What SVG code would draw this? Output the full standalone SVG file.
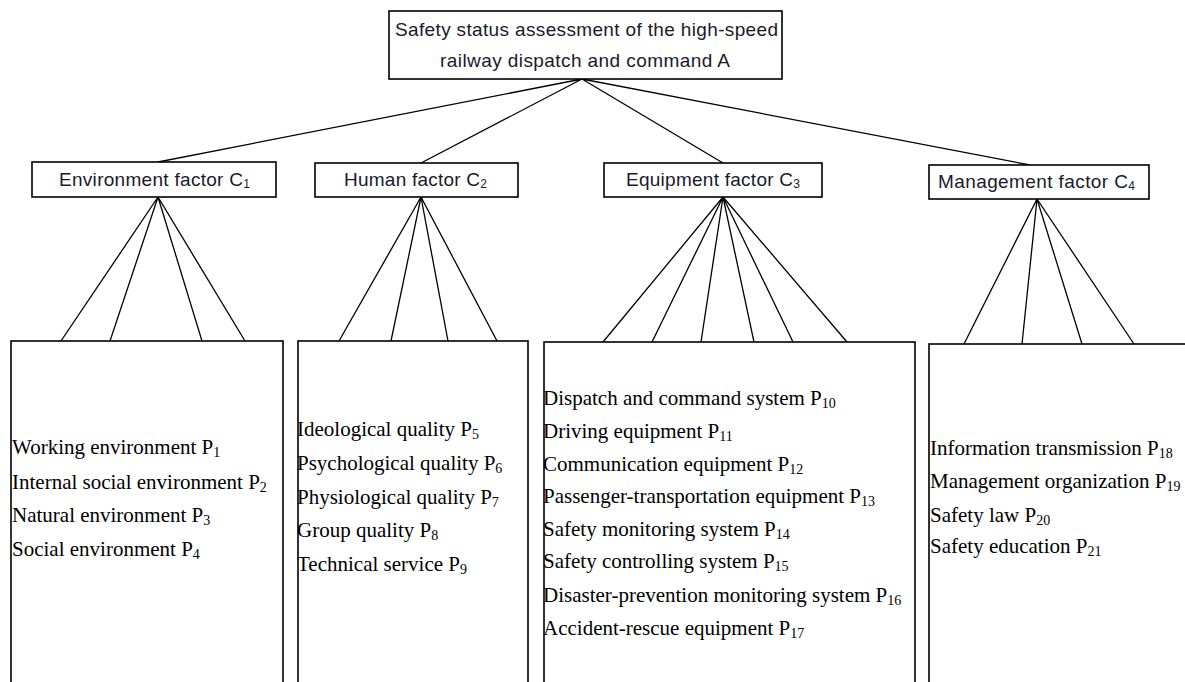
<svg xmlns="http://www.w3.org/2000/svg" width="1185" height="682" viewBox="0 0 1185 682">
<style>
.box{fill:#fff;stroke:#000;stroke-width:1.6}
.ln{stroke:#000;stroke-width:1.3;fill:none}
.sans{font-family:"Liberation Sans",Arial,sans-serif;font-size:19px;fill:#1a1a2a}
.ser{font-family:"Liberation Serif","Times New Roman",serif;font-size:21px;fill:#000}
.ss{font-size:14px}
.cs{font-size:12px}
</style>
<rect width="1185" height="682" fill="#fff"/>
<g id="connectors">
<path class="ln" d="M582,79 L158,162 M582,79 L421,163 M582,79 L723,163 M582,79 L1030,165"/>
<path class="ln" d="M158,197 L61,341 M158,197 L110,341 M158,197 L202,341 M158,197 L245,341"/>
<path class="ln" d="M421,197 L339,341 M421,197 L391,341 M421,197 L448,341 M421,197 L497,341"/>
<path class="ln" d="M723,197 L603,342 M723,197 L652,342 M723,197 L701,342 M723,197 L754,342 M723,197 L793,342 M723,197 L847,342"/>
<path class="ln" d="M1037,199 L964,344 M1037,199 L1022,344 M1037,199 L1082,344 M1037,199 L1134,344"/>
</g>
<g id="A">
<rect class="box" x="389" y="11" width="393" height="68"/>
<text class="sans" x="395" y="36" textLength="383" lengthAdjust="spacing">Safety status assessment of the high-speed</text>
<text class="sans" x="440" y="67" textLength="290" lengthAdjust="spacing">railway dispatch and command A</text>
</g>
<g id="C1">
<rect class="box" x="32" y="162" width="244" height="35"/>
<text class="sans" x="59" y="186" textLength="191" lengthAdjust="spacing">Environment factor C<tspan class="cs" dy="2">1</tspan></text>
</g>
<g id="C2">
<rect class="box" x="315" y="163" width="203" height="34"/>
<text class="sans" x="344" y="186" textLength="143" lengthAdjust="spacing">Human factor C<tspan class="cs" dy="2">2</tspan></text>
</g>
<g id="C3">
<rect class="box" x="604" y="163" width="218" height="34"/>
<text class="sans" x="626" y="186" textLength="174" lengthAdjust="spacing">Equipment factor C<tspan class="cs" dy="2">3</tspan></text>
</g>
<g id="C4">
<rect class="box" x="929" y="165" width="220" height="34"/>
<text class="sans" x="938" y="188" textLength="197" lengthAdjust="spacing">Management factor C<tspan class="cs" dy="2">4</tspan></text>
</g>
<g id="P1-4">
<rect class="box" x="11" y="341" width="272" height="360"/>
<text class="ser" x="12" y="454">Working environment P<tspan class="ss" dy="3">1</tspan></text>
<text class="ser" x="12" y="489">Internal social environment P<tspan class="ss" dy="3">2</tspan></text>
<text class="ser" x="12" y="522">Natural environment P<tspan class="ss" dy="3">3</tspan></text>
<text class="ser" x="12" y="556">Social environment P<tspan class="ss" dy="3">4</tspan></text>
</g>
<g id="P5-9">
<rect class="box" x="298" y="341" width="230" height="360"/>
<text class="ser" x="297" y="436">Ideological quality P<tspan class="ss" dy="3">5</tspan></text>
<text class="ser" x="297" y="470">Psychological quality P<tspan class="ss" dy="3">6</tspan></text>
<text class="ser" x="297" y="504">Physiological quality P<tspan class="ss" dy="3">7</tspan></text>
<text class="ser" x="297" y="537">Group quality P<tspan class="ss" dy="3">8</tspan></text>
<text class="ser" x="297" y="571">Technical service P<tspan class="ss" dy="3">9</tspan></text>
</g>
<g id="P10-17">
<rect class="box" x="544" y="342" width="371" height="360"/>
<text class="ser" x="543" y="405">Dispatch and command system P<tspan class="ss" dy="3">10</tspan></text>
<text class="ser" x="543" y="438">Driving equipment P<tspan class="ss" dy="3">11</tspan></text>
<text class="ser" x="543" y="471">Communication equipment P<tspan class="ss" dy="3">12</tspan></text>
<text class="ser" x="543" y="503">Passenger-transportation equipment P<tspan class="ss" dy="3">13</tspan></text>
<text class="ser" x="543" y="536">Safety monitoring system P<tspan class="ss" dy="3">14</tspan></text>
<text class="ser" x="543" y="568">Safety controlling system P<tspan class="ss" dy="3">15</tspan></text>
<text class="ser" x="543" y="602">Disaster-prevention monitoring system P<tspan class="ss" dy="3">16</tspan></text>
<text class="ser" x="543" y="635">Accident-rescue equipment P<tspan class="ss" dy="3">17</tspan></text>
</g>
<g id="P18-21">
<rect class="box" x="929" y="344" width="300" height="360"/>
<text class="ser" x="930" y="455">Information transmission P<tspan class="ss" dy="3">18</tspan></text>
<text class="ser" x="930" y="488">Management organization P<tspan class="ss" dy="3">19</tspan></text>
<text class="ser" x="930" y="522">Safety law P<tspan class="ss" dy="3">20</tspan></text>
<text class="ser" x="930" y="553">Safety education P<tspan class="ss" dy="3">21</tspan></text>
</g>
</svg>
